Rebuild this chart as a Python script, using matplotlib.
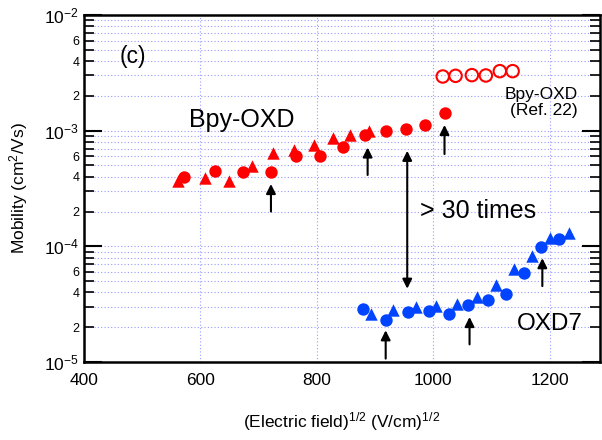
import matplotlib
matplotlib.use("Agg")
import matplotlib.pyplot as plt
from matplotlib.ticker import LogLocator, FuncFormatter, FixedLocator

plt.rcParams["font.family"] = ["Liberation Sans", "DejaVu Sans"]
plt.rcParams["mathtext.fontset"] = "custom"
plt.rcParams["mathtext.rm"] = "Liberation Sans"
plt.rcParams["mathtext.it"] = "Liberation Sans:italic"

# Bpy-OXD (this work)
bpy_circ_x = [571, 625, 673, 721, 764, 806, 844, 882, 919, 953, 985, 1019]
bpy_circ_y = [3.95e-4, 4.45e-4, 4.36e-4, 4.4e-4, 6.0e-4, 6.07e-4, 7.26e-4,
              9.16e-4, 1.0e-3, 1.03e-3, 1.12e-3, 1.41e-3]
bpy_tri_x = [561, 607, 649, 688, 725, 761, 795, 827, 857, 889]
bpy_tri_y = [3.7e-4, 3.9e-4, 3.7e-4, 4.97e-4, 6.4e-4, 6.8e-4, 7.5e-4,
             8.6e-4, 9.2e-4, 9.85e-4]
# Bpy-OXD (Ref. 22)
ref_x = [1016, 1038, 1066, 1090, 1114, 1136]
ref_y = [2.94e-3, 2.98e-3, 3.02e-3, 3.0e-3, 3.27e-3, 3.27e-3]
# OXD7
oxd_circ_x = [879, 919, 956, 992, 1026, 1060, 1093, 1124, 1155, 1185, 1215]
oxd_circ_y = [2.85e-5, 2.33e-5, 2.7e-5, 2.74e-5, 2.61e-5, 3.1e-5, 3.45e-5,
              3.89e-5, 5.9e-5, 9.96e-5, 1.15e-4]
oxd_tri_x = [892, 931, 970, 1005, 1040, 1075, 1108, 1139, 1170, 1200, 1232]
oxd_tri_y = [2.6e-5, 2.79e-5, 2.98e-5, 3.04e-5, 3.19e-5, 3.64e-5, 4.59e-5,
             6.4e-5, 8.2e-5, 1.17e-4, 1.3e-4]

# arrows: (x, y_tail, y_head)
arrows = [(721, 2.0e-4, 3.46e-4), (887, 4.14e-4, 7.16e-4), (1019, 6.28e-4, 1.12e-3),
          (918, 1.07e-5, 1.88e-5), (1062, 1.42e-5, 2.45e-5), (1187, 4.53e-5, 7.9e-5)]
span_x, span_top, span_bot = 955, 6.7e-4, 4.3e-5

fig = plt.figure(figsize=(6.02, 4.40), dpi=100)
ax = fig.add_axes([84 / 602, 1 - 362 / 440, (600 - 84) / 602, (362 - 15) / 440])

red, blue = "#ff0000", "#0044ff"
ms = 80
ax.scatter(bpy_tri_x, bpy_tri_y, marker="^", s=ms, color=red, zorder=3, linewidths=0)
ax.scatter(bpy_circ_x, bpy_circ_y, marker="o", s=ms, color=red, zorder=3, linewidths=0)
ax.scatter(ref_x, ref_y, marker="o", s=ms, facecolors="none", edgecolors=red,
           linewidths=1.5, zorder=3)
ax.scatter(oxd_tri_x, oxd_tri_y, marker="^", s=ms, color=blue, zorder=3, linewidths=0)
ax.scatter(oxd_circ_x, oxd_circ_y, marker="o", s=ms, color=blue, zorder=3, linewidths=0)

for x, y0, y1 in arrows:
    ax.annotate("", xy=(x, y1), xytext=(x, y0),
                arrowprops=dict(arrowstyle="-|>", color="black", lw=1.5,
                                mutation_scale=14, shrinkA=0, shrinkB=0))
ax.annotate("", xy=(span_x, span_bot), xytext=(span_x, span_top),
            arrowprops=dict(arrowstyle="<|-|>", color="black", lw=1.5,
                            mutation_scale=14, shrinkA=0, shrinkB=0))

ax.text(484, 4.4e-3, "(c)", fontsize=16.5, ha="center", va="center")
ax.text(671, 1.24e-3, "Bpy-OXD", fontsize=18, ha="center", va="center")
ax.text(977, 2.04e-4, "> 30 times", fontsize=18, ha="left", va="center")
ax.text(1144, 2.14e-5, "OXD7", fontsize=17.5, ha="left", va="center")
ax.text(1248, 1.75e-3, "Bpy-OXD\n(Ref. 22)", fontsize=12.5, ha="right", va="center",
        multialignment="right", linespacing=1.1)

ax.set_yscale("log")
ax.set_xlim(400, 1286)
ax.set_ylim(1e-5, 1e-2)
ax.xaxis.set_major_locator(FixedLocator([400, 600, 800, 1000, 1200]))
ax.yaxis.set_major_locator(LogLocator(base=10, numticks=10))
ax.yaxis.set_minor_locator(LogLocator(base=10, subs=range(2, 10), numticks=20))


def minor_fmt(v, pos):
    m = round(v / 10 ** int(f"{v:e}".split("e")[1]))
    return str(m) if m in (2, 4, 6) else ""


ax.yaxis.set_minor_formatter(FuncFormatter(minor_fmt))
ax.tick_params(axis="y", which="major", direction="in", length=13, width=1.5,
               labelsize=12.5, right=True)
ax.tick_params(axis="y", which="minor", direction="in", length=7, width=1.2,
               labelsize=9, right=True)
ax.tick_params(axis="x", which="major", direction="in", length=0, labelsize=12.5, pad=8)

ax.grid(True, which="both", axis="y", color="#9a9aff", linestyle=(0, (1, 2)), lw=0.8)
ax.grid(True, which="major", axis="x", color="#9a9aff", linestyle=(0, (1, 2)), lw=0.8)
ax.set_axisbelow(True)
for s in ax.spines.values():
    s.set_linewidth(1.8)

ax.set_ylabel("Mobility (cm$^2$/Vs)", fontsize=12.5, labelpad=10)
ax.set_xlabel("(Electric field)$^{1/2}$ (V/cm)$^{1/2}$", fontsize=12.5, labelpad=16)

fig.savefig("out.png", dpi=100)
